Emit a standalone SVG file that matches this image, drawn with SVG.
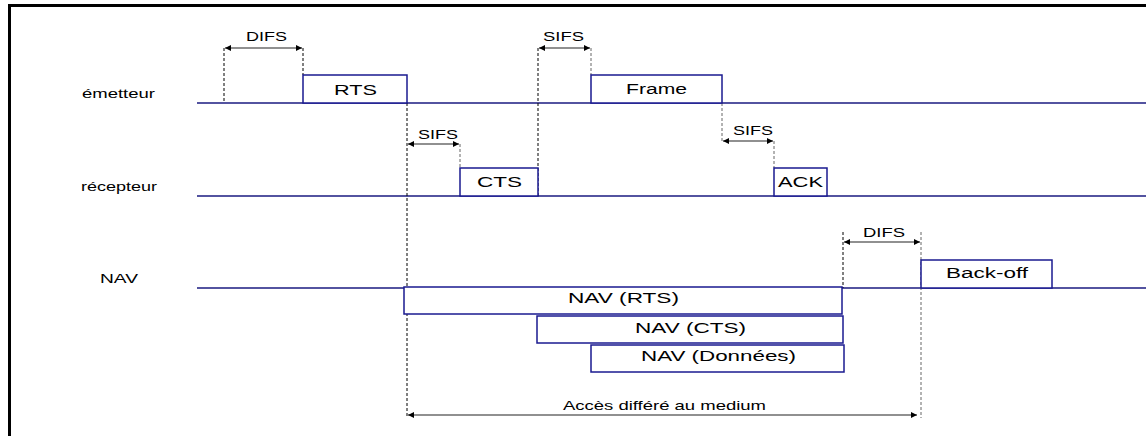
<svg xmlns="http://www.w3.org/2000/svg" width="1146" height="436" viewBox="0 0 1146 436">
<style>
.bg{fill:#fff}
.frame{fill:#000}
.tl{stroke:#1a1a80;stroke-width:1.5;fill:none}
.box{stroke:#1a1a90;stroke-width:1.5;fill:#fff}
.dash{stroke:#000;stroke-width:1;stroke-dasharray:3,2;fill:none}
.dashg{stroke:#666;stroke-width:1;stroke-dasharray:3,2;fill:none}
.arr{stroke:#222;stroke-width:1.2;fill:none;marker-start:url(#ah);marker-end:url(#ah)}
.lbl{font-family:"Liberation Sans",Arial,sans-serif;font-size:13px;fill:#000;text-anchor:start}
.btx{font-family:"Liberation Sans",Arial,sans-serif;font-size:15.5px;fill:#000;text-anchor:start}
</style>
<defs>
<marker id="ah" viewBox="0 0 10 10" refX="10" refY="5" markerWidth="9" markerHeight="6" orient="auto-start-reverse" markerUnits="userSpaceOnUse">
<path d="M0,0 L10,5 L0,10 z" fill="#000"/>
</marker>
</defs>
<rect class="bg" x="0" y="0" width="1146" height="436"/>
<g id="frame">
<rect class="frame" x="8" y="4" width="1138" height="3"/>
<rect class="frame" x="8" y="4" width="3" height="432"/>
</g>
<g id="timelines">
<line class="tl" x1="197" y1="103" x2="1146" y2="103"/>
<line class="tl" x1="197" y1="196" x2="1146" y2="196"/>
<line class="tl" x1="197" y1="288" x2="1146" y2="288"/>
<text class="lbl" x="82" y="98" textLength="73" lengthAdjust="spacingAndGlyphs">émetteur</text>
<text class="lbl" x="81" y="191" textLength="76" lengthAdjust="spacingAndGlyphs">récepteur</text>
<text class="lbl" x="100" y="283" textLength="38" lengthAdjust="spacingAndGlyphs">NAV</text>
</g>
<g id="connectors">
<line class="dash" x1="224" y1="48" x2="224" y2="103"/>
<line class="dash" x1="303" y1="48" x2="303" y2="75"/>
<line class="dash" x1="407" y1="103" x2="407" y2="418"/>
<line class="dash" x1="538" y1="48" x2="538" y2="196"/>
<line class="dashg" x1="591" y1="48" x2="591" y2="75"/>
<line class="dashg" x1="722" y1="103" x2="722" y2="141"/>
<line class="dashg" x1="460" y1="144" x2="460" y2="168"/>
<line class="dashg" x1="774" y1="141" x2="774" y2="168"/>
<line class="dash" x1="843" y1="232" x2="843" y2="288"/>
<line class="dashg" x1="921" y1="232" x2="921" y2="418"/>
<line class="arr" x1="225" y1="48" x2="302" y2="48"/>
<line class="arr" x1="539" y1="48" x2="590" y2="48"/>
<line class="arr" x1="408" y1="144" x2="459" y2="144"/>
<line class="arr" x1="723" y1="141" x2="773" y2="141"/>
<line class="arr" x1="844" y1="242" x2="920" y2="242"/>
<line class="arr" x1="408" y1="415" x2="917" y2="415"/>
<text class="lbl" x="246" y="41" textLength="41" lengthAdjust="spacingAndGlyphs">DIFS</text>
<text class="lbl" x="543" y="41" textLength="41" lengthAdjust="spacingAndGlyphs">SIFS</text>
<text class="lbl" x="418" y="139" textLength="40" lengthAdjust="spacingAndGlyphs">SIFS</text>
<text class="lbl" x="733" y="135" textLength="40" lengthAdjust="spacingAndGlyphs">SIFS</text>
<text class="lbl" x="863" y="237" textLength="42" lengthAdjust="spacingAndGlyphs">DIFS</text>
<text class="lbl" x="563" y="410" textLength="203" lengthAdjust="spacingAndGlyphs">Accès différé au medium</text>
</g>
<g id="rts">
<rect class="box" x="303" y="75" width="104" height="28"/>
<text class="btx" x="334" y="95" textLength="43" lengthAdjust="spacingAndGlyphs">RTS</text>
</g>
<g id="frame-box">
<rect class="box" x="591" y="75" width="131" height="28"/>
<text class="btx" x="626" y="94" textLength="61" lengthAdjust="spacingAndGlyphs">Frame</text>
</g>
<g id="cts">
<rect class="box" x="460" y="168" width="78" height="28"/>
<text class="btx" x="477" y="187" textLength="45" lengthAdjust="spacingAndGlyphs">CTS</text>
</g>
<g id="ack">
<rect class="box" x="774" y="168" width="53" height="28"/>
<text class="btx" x="778" y="187" textLength="45" lengthAdjust="spacingAndGlyphs">ACK</text>
</g>
<g id="backoff">
<rect class="box" x="921" y="260" width="131" height="28"/>
<text class="btx" x="946" y="278" textLength="82" lengthAdjust="spacingAndGlyphs">Back-off</text>
</g>
<g id="nav-rts">
<rect class="box" x="404" y="287" width="438" height="27"/>
<text class="btx" x="568" y="303" textLength="111" lengthAdjust="spacingAndGlyphs">NAV (RTS)</text>
</g>
<g id="nav-cts">
<rect class="box" x="537" y="316" width="306" height="27"/>
<text class="btx" x="635" y="333" textLength="111" lengthAdjust="spacingAndGlyphs">NAV (CTS)</text>
</g>
<g id="nav-donnees">
<rect class="box" x="591" y="345" width="253" height="27"/>
<text class="btx" x="641" y="361" textLength="155" lengthAdjust="spacingAndGlyphs">NAV (Données)</text>
</g>
</svg>
